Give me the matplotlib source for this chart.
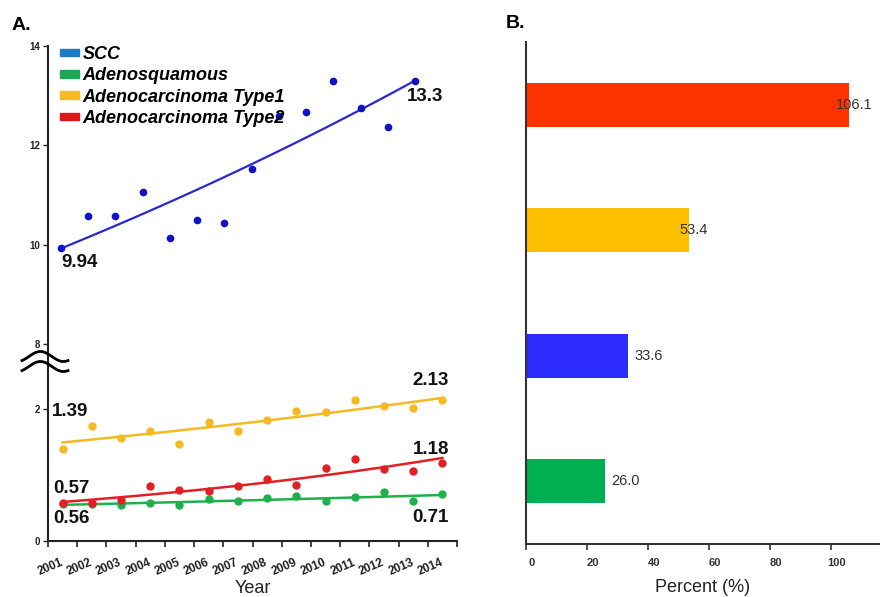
import numpy as np
import matplotlib
matplotlib.use('Agg')
import matplotlib.pyplot as plt
import matplotlib.transforms as mtransforms
from matplotlib.patches import Patch
from matplotlib.lines import Line2D

plt.rcParams['font.family'] = ['Liberation Sans', 'DejaVu Sans']

# data
years = list(range(2001, 2015))
scc = [9.94, 10.58, 10.57, 11.07, 10.13, 10.49, 10.44, 11.53, 12.59, 12.67, 13.30, 12.75, 12.38, 13.30]
adenosquamous = [0.56, 0.56, 0.54, 0.58, 0.55, 0.64, 0.60, 0.65, 0.68, 0.61, 0.67, 0.74, 0.60, 0.71]
adeno_type1 = [1.39, 1.75, 1.56, 1.67, 1.47, 1.81, 1.67, 1.84, 1.97, 1.95, 2.13, 2.05, 2.02, 2.13]
adeno_type2 = [0.57, 0.57, 0.62, 0.83, 0.78, 0.76, 0.84, 0.94, 0.85, 1.11, 1.25, 1.09, 1.06, 1.18]

legend_names = ['SCC', 'Adenosquamous', 'Adenocarcinoma Type1', 'Adenocarcinoma Type2']

# bar chart, bottom to top
bar_names = ['Adenosquamous', 'SCC', 'Adenocarcinoma Type1', 'Adenocarcinoma Type2']
bar_values = [26.0, 33.6, 53.4, 106.1]
bar_ticks = [0, 20, 40, 60, 80, 100]

W, H = 880, 597
fig = plt.figure(figsize=(W / 100, H / 100), dpi=100)


def box(l, t, r, b):
    return [l / W, 1 - b / H, (r - l) / W, (b - t) / H]


def exp_fit(x, y):
    c = np.polyfit(x, np.log(y), 1)
    xs = np.linspace(x[0], x[-1], 100)
    return xs, np.exp(np.polyval(c, xs))


axis_col = '#222222'
x = np.arange(len(years))

# ---- panel A, upper part (SCC) ----
ax_top = fig.add_axes(box(48, 46, 457, 361))
ax_top.set_xlim(-0.477, 14.54)
ax_top.set_ylim(14 - (361 - 46) / 49.7, 14)
xs, ys = exp_fit(x, scc)
ax_top.plot(xs, ys, color='#2828d0', lw=1.6, zorder=2)
ax_top.plot(x, scc, 'o', color='#1010c8', ms=4.5, zorder=3)
for s in ['top', 'right', 'bottom']:
    ax_top.spines[s].set_visible(False)
ax_top.spines['left'].set_color(axis_col)
ax_top.spines['left'].set_linewidth(1.5)
ax_top.set_xticks([])
ax_top.set_yticks([8, 10, 12, 14])
ax_top.tick_params(axis='y', length=3.5, width=1, pad=2, labelsize=7, colors=axis_col)
for t in ax_top.get_yticklabels():
    t.set_fontweight('bold')

ann = dict(textcoords='offset pixels', fontsize=13.5, fontweight='bold', ha='left', va='center',
           color='#111111', annotation_clip=False)
ax_top.annotate('9.94', (x[0], scc[0]), xytext=(0, -15), **ann)
ax_top.annotate('13.3', (x[-1], scc[-1]), xytext=(-8, -16), **ann)

handles = [Patch(color=c) for c in ['#1f78c4', '#1ea853', '#f7b825', '#e0161b']]
leg = ax_top.legend(handles, legend_names, loc='upper left', bbox_to_anchor=(60 / W, 1 - 46 / H),
                    bbox_transform=fig.transFigure, frameon=False, borderpad=0, borderaxespad=0,
                    handlelength=1.05, handleheight=0.3, handletextpad=0.2, labelspacing=0.24,
                    prop=dict(size=13, weight='bold', style='italic'))

# ---- panel A, lower part ----
ax_bot = fig.add_axes(box(48, 361, 457, 541))
ax_bot.set_xlim(-0.5, len(years) - 0.5)
ax_bot.set_ylim(0, (541 - 361) / 66)
series = [(adenosquamous, '#1db04b'), (adeno_type1, '#f5b921'), (adeno_type2, '#e31e24')]
for vals, col in series:
    xs, ys = exp_fit(x, vals)
    ax_bot.plot(xs, ys, color=col, lw=1.8, zorder=2)
for vals, col in series:
    ax_bot.plot(x, vals, 'o', color=col, ms=5, zorder=3)
ax_bot.spines['top'].set_visible(False)
ax_bot.spines['right'].set_visible(False)
for s in ['left', 'bottom']:
    ax_bot.spines[s].set_color(axis_col)
    ax_bot.spines[s].set_linewidth(1.5)
ax_bot.set_yticks([0, 2])
ax_bot.tick_params(axis='y', length=3.5, width=1, pad=2, labelsize=7, colors=axis_col)
for t in ax_bot.get_yticklabels():
    t.set_fontweight('bold')
ax_bot.set_xticks(x)
ax_bot.set_xticklabels([str(y) for y in years], rotation=23, ha='right', va='center',
                       rotation_mode='anchor', fontsize=8.5, fontweight='bold')
ax_bot.set_xticks(np.arange(-0.5, len(years)), minor=True)
ax_bot.tick_params(axis='x', which='major', length=0, pad=15, colors=axis_col)
ax_bot.tick_params(axis='x', which='minor', length=4, width=1.2, colors=axis_col)
ax_bot.set_xlabel('Year', fontsize=13, labelpad=2, color='#222222')

ax_bot.annotate('1.39', (x[0], adeno_type1[0]), xytext=(-11, 38), **ann)
ax_bot.annotate('2.13', (x[-1], adeno_type1[-1]), xytext=(-30, 20), **ann)
ax_bot.annotate('1.18', (x[-1], adeno_type2[-1]), xytext=(-30, 14), **ann)
ax_bot.annotate('0.57', (x[0], adeno_type2[0]), xytext=(-9, 15), **ann)
ax_bot.annotate('0.56', (x[0], adenosquamous[0]), xytext=(-9, -14), **ann)
ax_bot.annotate('0.71', (x[-1], adenosquamous[-1]), xytext=(-30, -23), **ann)

# axis break marks
t = np.linspace(0, 1, 60)
for yc in (356.5, 366.5):
    px = 22 + 46 * t
    py = yc - 5 * np.sin(2 * np.pi * (t - 0.15))
    fig.add_artist(Line2D(px / W, 1 - py / H, color='black', lw=2, transform=fig.transFigure))

fig.text(12 / W, 1 - 25 / H, 'A.', fontsize=14, fontweight='bold', va='center')
fig.text(506 / W, 1 - 24 / H, 'B.', fontsize=14, fontweight='bold', va='center')

# ---- panel B ----
ax_bar = fig.add_axes(box(526, 42, 879, 544))
bar_cols = ['#00b050', '#2b2bff', '#ffc000', '#ff3300']
yb = np.arange(len(bar_values))
ax_bar.barh(yb, bar_values, height=0.354, color=bar_cols)
ax_bar.set_xlim(0, (879 - 526) / 3.047)
ax_bar.set_ylim(-0.5, 3.5)
for yy, v in zip(yb, bar_values):
    if v > 50:
        ax_bar.text(v + 1.5, yy, f'{v:.1f}', ha='center', va='center', fontsize=10.5, color='#333333')
    else:
        ax_bar.text(v + 2, yy, f'{v:.1f}', ha='left', va='center', fontsize=10.5, color='#333333')
ax_bar.spines['top'].set_visible(False)
ax_bar.spines['right'].set_visible(False)
for s in ['left', 'bottom']:
    ax_bar.spines[s].set_color('#333333')
    ax_bar.spines[s].set_linewidth(1.5)
ax_bar.set_yticks([])
ax_bar.set_xticks(bar_ticks)
ax_bar.tick_params(axis='x', length=4, width=1.2, pad=6, labelsize=8, colors='#333333')
shift = mtransforms.ScaledTranslation(6 / 100, 0, fig.dpi_scale_trans)
for lab in ax_bar.get_xticklabels():
    lab.set_fontweight('bold')
    lab.set_transform(lab.get_transform() + shift)
ax_bar.set_xlabel('Percent (%)', fontsize=13, labelpad=8, color='#222222')

fig.savefig('out.png', dpi=100)
